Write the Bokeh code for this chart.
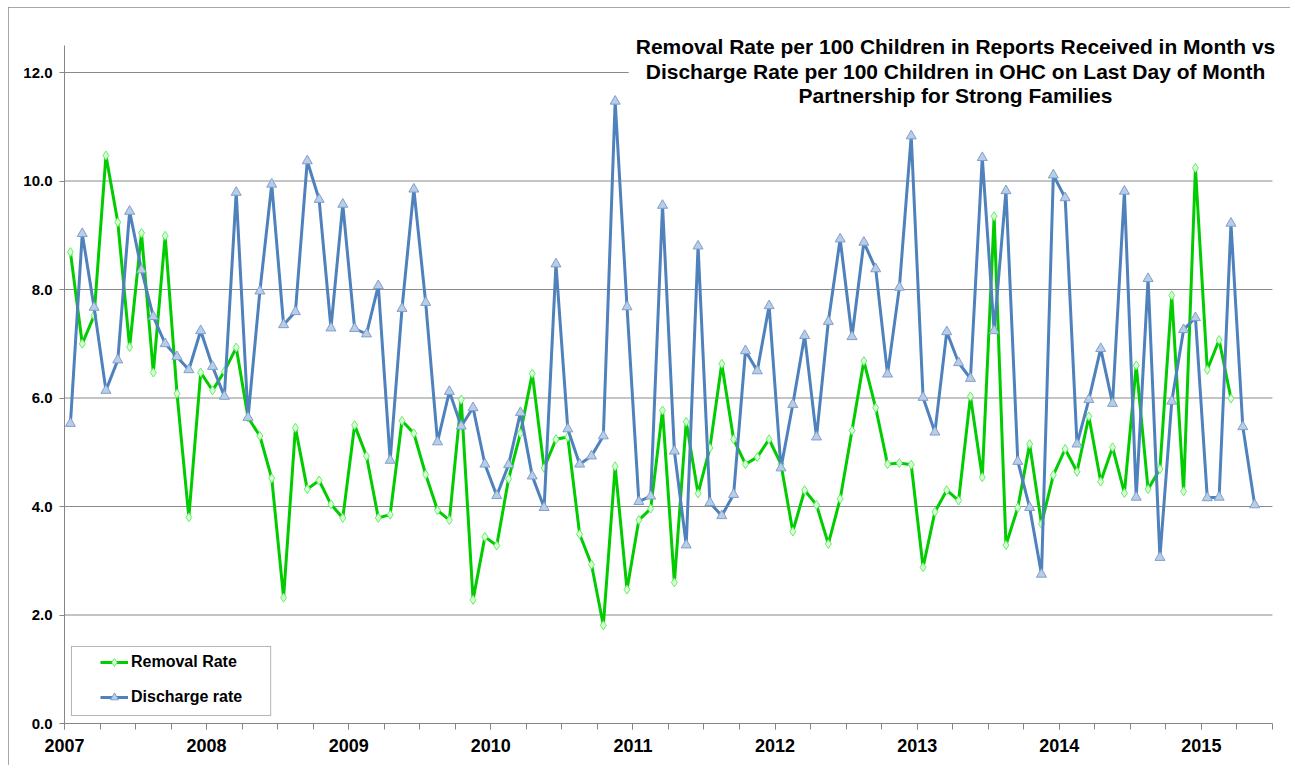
from bokeh.plotting import figure
from bokeh.models import (Range1d, FixedTicker, PrintfTickFormatter, Legend, LegendItem,
                          Label, BoxAnnotation)
from bokeh.embed import file_html
from bokeh.resources import INLINE

# ---- data (monthly, Jan 2007 onwards) ----
start_year = 2007
removal_rate = [8.69, 7.00, 7.52, 10.47, 9.24, 6.94, 9.04, 6.47, 8.99, 6.08, 3.80, 6.47, 6.14, 6.49, 6.93, 5.64, 5.30,
                4.52, 2.32, 5.45, 4.32, 4.48, 4.04, 3.79, 5.50, 4.93, 3.79, 3.85, 5.58, 5.35, 4.59, 3.93, 3.75, 5.97,
                2.28, 3.44, 3.28, 4.51, 5.35, 6.45, 4.71, 5.24, 5.28, 3.49, 2.93, 1.81, 4.74, 2.47, 3.75, 3.96, 5.77,
                2.60, 5.56, 4.24, 5.08, 6.63, 5.24, 4.78, 4.91, 5.24, 4.78, 3.54, 4.30, 4.03, 3.31, 4.14, 5.40, 6.68,
                5.82, 4.78, 4.80, 4.77, 2.88, 3.90, 4.30, 4.11, 6.03, 4.54, 9.35, 3.29, 3.98, 5.15, 3.68, 4.58, 5.06,
                4.64, 5.66, 4.46, 5.09, 4.25, 6.60, 4.32, 4.69, 7.89, 4.28, 10.24, 6.52, 7.07, 5.99]
discharge_rate = [5.53, 9.03, 7.67, 6.14, 6.70, 9.44, 8.36, 7.50, 7.00, 6.76, 6.52, 7.24, 6.58, 6.03, 9.79, 5.64, 7.97,
                  9.94, 7.35, 7.59, 10.37, 9.66, 7.29, 9.57, 7.28, 7.18, 8.07, 4.85, 7.65, 9.85, 7.76, 5.19, 6.12, 5.48,
                  5.82, 4.78, 4.20, 4.77, 5.73, 4.56, 3.98, 8.47, 5.43, 4.78, 4.93, 5.30, 11.47, 7.68, 4.09, 4.19, 9.55,
                  5.02, 3.29, 8.80, 4.07, 3.83, 4.22, 6.87, 6.50, 7.70, 4.71, 5.88, 7.15, 5.28, 7.41, 8.93, 7.13, 8.87,
                  8.38, 6.44, 8.04, 10.83, 6.01, 5.37, 7.22, 6.65, 6.36, 10.43, 7.24, 9.82, 4.83, 3.98, 2.75, 10.11, 9.69,
                  5.15, 5.97, 6.91, 5.90, 9.81, 4.17, 8.20, 3.06, 5.94, 7.26, 7.48, 4.16, 4.17, 9.22, 5.47, 4.03]
year_ticks = [2007, 2008, 2009, 2010, 2011, 2012, 2013, 2014, 2015]
y_ticks = [0, 2, 4, 6, 8, 10, 12]
title_lines = ["Removal Rate per 100 Children in Reports Received in Month vs",
               "Discharge Rate per 100 Children in OHC on Last Day of Month",
               "Partnership for Strong Families"]
series_names = ["Removal Rate", "Discharge rate"]

x_removal = [start_year + (i + 0.5) / 12 for i in range(len(removal_rate))]
x_discharge = [start_year + (i + 0.5) / 12 for i in range(len(discharge_rate))]

FONT = "Liberation Sans"
GRID = "#8a8a8a"
X_END = 2015.5    # end of the category axis
X_VIEW = 2015.585 # frame runs a little further so the title is not clipped
Y_TOP = 13.18     # frame extends above the axis so the title block fits inside it

p = figure(width=1282, height=758, output_backend="svg", toolbar_location=None,
           x_range=Range1d(2007, X_VIEW), y_range=Range1d(0, Y_TOP),
           min_border_left=56, min_border_right=6, min_border_top=1, min_border_bottom=42)
p.outline_line_color = None
p.background_fill_color = "white"
p.border_fill_color = "white"
p.styles = {"margin-left": "8px", "margin-top": "7px",
            "outline": "1px solid #8a8a8a", "outline-offset": "-1px"}

# axes
p.xaxis.ticker = FixedTicker(ticks=year_ticks,
                             minor_ticks=[2007 + q / 4 for q in range(35)])
p.xaxis.bounds = (2007, X_END)
p.yaxis.ticker = FixedTicker(ticks=y_ticks, minor_ticks=[])
p.yaxis.formatter = PrintfTickFormatter(format="%.1f")
p.yaxis.bounds = (0, 12.5)
for ax in (p.xaxis[0], p.yaxis[0]):
    ax.axis_line_color = "#868686"
    ax.major_tick_line_color = "#868686"
    ax.minor_tick_line_color = "#868686"
    ax.major_tick_in = 0
    ax.minor_tick_in = 0
    ax.major_label_text_font = FONT
    ax.major_label_text_font_style = "bold"
    ax.major_label_text_color = "black"
p.xaxis.major_tick_out = 6
p.xaxis.minor_tick_out = 6
p.xaxis.major_label_text_font_size = "18px"
p.xaxis.major_label_standoff = 9
p.yaxis.major_tick_out = 5
p.yaxis.minor_tick_out = 0
p.yaxis.major_label_text_font_size = "15px"
p.yaxis.major_label_standoff = 7

# horizontal gridlines limited to the axis extent
p.xgrid.visible = False
p.ygrid.visible = False
grid_y = y_ticks[1:]
p.segment(x0=[2007] * len(grid_y), x1=[X_END] * len(grid_y), y0=grid_y, y1=grid_y,
          line_color=GRID, line_width=1)

# series
g_line = p.line(x_removal, removal_rate, line_color="#00cc00", line_width=3)
g_pts = p.scatter(x_removal, removal_rate, marker="diamond", size=9,
                  fill_color="#d8ffd8", line_color="#66ee66", line_width=1)
b_line = p.line(x_discharge, discharge_rate, line_color="#4f81bd", line_width=3)
b_pts = p.scatter(x_discharge, discharge_rate, marker="triangle", size=10,
                  fill_color="#b9cde5", line_color="#7f9fcf", line_width=1)

# title block (white box hides the 12.0 gridline behind it)
p.add_layout(BoxAnnotation(left=2010.97, right=X_VIEW, bottom=11.8, top=Y_TOP,
                           fill_color="white", fill_alpha=1, line_alpha=0))
for txt, yv in zip(title_lines, [12.48, 12.02, 11.58]):
    p.add_layout(Label(x=2013.27, y=yv, text=txt, text_align="center", text_baseline="middle",
                       text_font=FONT, text_font_style="bold", text_font_size="21px",
                       text_color="black"))

# legend box + legend
p.add_layout(BoxAnnotation(left=2007.049, right=2008.451, bottom=0.147, top=1.42,
                           fill_color="white", fill_alpha=1, line_color="black", line_width=1))
legend = Legend(items=[LegendItem(label=series_names[0], renderers=[g_line, g_pts]),
                       LegendItem(label=series_names[1], renderers=[b_line, b_pts])],
                location=(36, 16), padding=0, spacing=15, glyph_width=28, glyph_height=20,
                label_height=20, label_standoff=3, border_line_alpha=0, background_fill_alpha=0,
                label_text_font=FONT, label_text_font_style="bold", label_text_font_size="16px",
                label_text_color="black")
p.add_layout(legend)

open("out.html", "w").write(file_html(p, INLINE))
